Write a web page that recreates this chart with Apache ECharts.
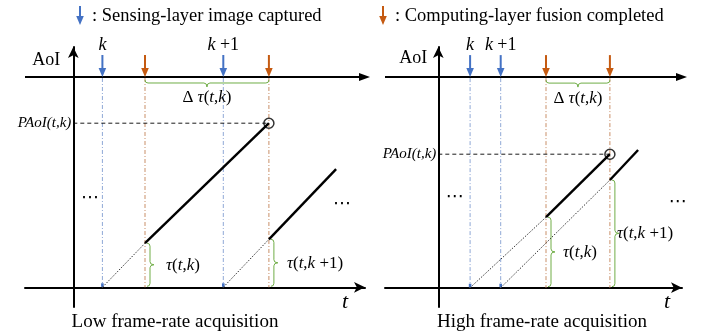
<!DOCTYPE html>
<html><head><meta charset="utf-8">
<script src="https://cdn.jsdelivr.net/npm/echarts@6/dist/echarts.min.js"></script>
<style>html,body{margin:0;padding:0;background:#fff}#c{width:709px;height:335px}</style>
</head><body><div id="c"></div>
<script>
// ---------------- data (time / AoI units) ----------------
const legendLabels = [': Sensing-layer image captured', ': Computing-layer fusion completed'];
const panelTitles = ['Low frame-rate acquisition', 'High frame-rate acquisition'];
const captureLabels = ['{i|k}', '{i|k}{n| +1}'];
const tauLabels = ['{i|τ}{n|(}{i|t}{n|,}{i|k}{n|)}', '{i|τ}{n|(}{i|t}{n|,}{i|k}{n| +1)}'];
const deltaLabel = '{n|Δ }{i|τ}{n|(}{i|t}{n|,}{i|k}{n|)}';
const paoiLabel = '{i|PAoI}{n|(}{i|t}{n|,}{i|k}{n|)}';
const axisLabelsY = 'AoI';
const axisLabelsX = 't';

// low frame-rate panel
const lowCaptureT = [0.97, 5.0];
const lowFusionT = [2.39, 6.52];
const lowWaitK = [[0.97, 0], [2.39, 1.47]];
const lowAgeK = [[2.39, 1.47], [6.52, 5.47]];
const lowWaitK1 = [[5.0, 0], [6.52, 1.6]];
const lowAgeK1 = [[6.52, 1.6], [8.76, 3.94]];
const lowPeak = [[6.52, 5.47]];

// high frame-rate panel
const highCaptureT = [1.06, 2.08];
const highFusionT = [3.59, 5.72];
const highWaitK = [[1.06, 0], [3.59, 2.35]];
const highAgeK = [[3.59, 2.35], [5.72, 4.45]];
const highWaitK1 = [[2.08, 0], [5.72, 3.59]];
const highAgeK1 = [[5.72, 3.59], [6.66, 4.59]];
const highPeak = [[5.72, 4.45]];

// ---------------- layout / style ----------------
const FONT = 'Liberation Serif';
const BLUE = '#4472C4', ORANGE = '#C55A11', GREEN = '#70AD47';
const BLUE_L = '#8FA8D6', ORANGE_L = '#C98F68';

const panels = [
  { grid: {left: 25, top: 47, width: 340, height: 260}, x: [-1.61, 9.7233], y: [-0.6567, 8.01], timeline: 7.01,
    capture: lowCaptureT, fusion: lowFusionT, wait: [lowWaitK, lowWaitK1], age: [lowAgeK, lowAgeK1], peak: lowPeak,
    tauDx: [21, 18], dots: [[0.56, 2.98], [8.96, 2.78]], tDx: -20, aoiDx: -13, aoiDy: -17, titleX: 175 },
  { grid: {left: 385, top: 47, width: 297, height: 260}, x: [-1.7767, 8.1233], y: [-0.6433, 8.0233], timeline: 7.02,
    capture: highCaptureT, fusion: highFusionT, wait: [highWaitK, highWaitK1], age: [highAgeK, highAgeK1], peak: highPeak,
    tauDx: [17, 7], dots: [[0.55, 3.02], [7.98, 2.86]], tDx: -15, aoiDx: -11, aoiDy: -19, titleX: 542 }
];

function rich(size, italicAll) {
  return {
    i: {fontStyle: 'italic', fontSize: size, fontFamily: FONT, fill: '#000', color: '#000'},
    n: {fontStyle: italicAll ? 'italic' : 'normal', fontSize: size, fontFamily: FONT, fill: '#000', color: '#000'}
  };
}
function txt(x, y, text, size, align, opts) {
  opts = opts || {};
  return {type: 'text', x: x, y: y, style: {
    text: text, rich: rich(size, opts.italicAll), fontSize: size, fontFamily: opts.family || FONT,
    fontStyle: opts.italic ? 'italic' : 'normal', fill: '#000',
    align: align, textAlign: align, verticalAlign: 'middle', textVerticalAlign: 'middle'
  }};
}
function downArrow(x, yTip, color) {
  return [
    {type: 'line', shape: {x1: x, y1: yTip - 22, x2: x, y2: yTip - 7}, style: {stroke: color, lineWidth: 2}},
    {type: 'polygon', shape: {points: [[x, yTip], [x - 3.8, yTip - 9], [x + 3.8, yTip - 9]]}, style: {fill: color}}
  ];
}
function vBrace(x, y1, y2) {
  const xs = x + 3, xn = x + 7, ym = (y1 + y2) / 2, r = 3;
  return {type: 'path', shape: {pathData:
    `M${x},${y1} Q${xs},${y1} ${xs},${y1 + r} L${xs},${ym - r} Q${xs},${ym} ${xn},${ym} Q${xs},${ym} ${xs},${ym + r} L${xs},${y2 - r} Q${xs},${y2} ${x},${y2}`},
    style: {stroke: GREEN, lineWidth: 1, fill: null}};
}
function hBrace(x1, x2, yt) {
  const ys = yt + 3, yn = yt + 7, xm = (x1 + x2) / 2, r = 3;
  return {type: 'path', shape: {pathData:
    `M${x1},${yt} Q${x1},${ys} ${x1 + r},${ys} L${xm - r},${ys} Q${xm},${ys} ${xm},${yn} Q${xm},${ys} ${xm + r},${ys} L${x2 - r},${ys} Q${x2},${ys} ${x2},${yt}`},
    style: {stroke: GREEN, lineWidth: 1, fill: null}};
}

function annot(p) {
  return function (params, api) {
    const c = (t, a) => api.coord([t, a]);
    const kids = [];
    const TL = p.timeline;
    const tl0 = c(p.x[0], TL), tl1 = c(p.x[1], TL);
    const tlY = tl0[1];
    const origin = c(0, 0);
    // vertical dash-dot guides
    p.capture.forEach(t => { const a = c(t, TL), b = c(t, 0);
      kids.push({type: 'line', shape: {x1: a[0], y1: a[1] + 1, x2: b[0], y2: b[1]}, style: {stroke: BLUE_L, lineWidth: 1, lineDash: [4, 2, 1, 2]}}); });
    p.fusion.forEach(t => { const a = c(t, TL), b = c(t, 0);
      kids.push({type: 'line', shape: {x1: a[0], y1: a[1] + 1, x2: b[0], y2: b[1]}, style: {stroke: ORANGE_L, lineWidth: 1, lineDash: [4, 2, 1, 2]}}); });
    // PAoI dashed line
    const pk = c(p.peak[0][0], p.peak[0][1]);
    kids.push({type: 'line', shape: {x1: origin[0], y1: pk[1], x2: pk[0], y2: pk[1]}, style: {stroke: '#000', lineWidth: 0.9, lineDash: [4, 3]}});
    // timeline
    kids.push({type: 'line', shape: {x1: tl0[0], y1: tlY, x2: tl1[0], y2: tlY}, style: {stroke: '#000', lineWidth: 2}});
    kids.push({type: 'polygon', shape: {points: [[tl1[0] + 5, tlY], [tl1[0] - 6, tlY - 4], [tl1[0] - 6, tlY + 4]]}, style: {fill: '#000'}});
    // event arrows and labels
    p.capture.forEach((t, i) => { const a = c(t, TL);
      kids.push(...downArrow(a[0], tlY, BLUE));
      kids.push(txt(a[0], tlY - 32, captureLabels[i], 18, 'center'));
      const b = c(t, 0);
      kids.push({type: 'rect', shape: {x: b[0] - 1.3, y: b[1] - 4, width: 2.6, height: 3.5}, style: {fill: BLUE}});
    });
    p.fusion.forEach(t => { const a = c(t, TL); kids.push(...downArrow(a[0], tlY, ORANGE)); });
    // delta brace
    const f0 = c(p.fusion[0], TL), f1 = c(p.fusion[1], TL);
    kids.push(hBrace(f0[0], f1[0], tlY + 3));
    kids.push(txt((f0[0] + f1[0]) / 2, tlY + 21, deltaLabel, 17, 'center'));
    // tau braces
    p.fusion.forEach((t, i) => {
      const top = c(t, p.wait[i][1][1]), bot = c(t, 0);
      kids.push(vBrace(top[0] + 2, top[1], bot[1] - 1));
      kids.push(txt(top[0] + p.tauDx[i], (top[1] + bot[1]) / 2, tauLabels[i], 17, 'left'));
    });
    // axis texts
    kids.push(txt(origin[0] + p.aoiDx, tlY + p.aoiDy, axisLabelsY, 18, 'right'));
    kids.push(txt(tl1[0] + p.tDx, origin[1] + 15, '{i|' + axisLabelsX + '}', 22, 'center'));
    kids.push(txt(origin[0] - 2, pk[1], paoiLabel, 15, 'right', {italicAll: true}));
    // ellipses
    p.dots.forEach(d => { const q = c(d[0], d[1]);
      kids.push({type: 'text', x: q[0], y: q[1], style: {text: '⋯', fontSize: 18, fontFamily: 'DejaVu Sans', fill: '#000',
        align: 'center', textAlign: 'center', verticalAlign: 'middle', textVerticalAlign: 'middle'}}); });
    return {type: 'group', children: kids};
  };
}

const grids = [], xAxes = [], yAxes = [], series = [];
panels.forEach((p, i) => {
  grids.push(Object.assign({containLabel: false}, p.grid));
  const axisCommon = {
    type: 'value', gridIndex: i,
    axisLine: {onZero: true, symbol: ['none', 'arrow'], symbolSize: [8, 11], lineStyle: {color: '#000', width: 2}},
    axisTick: {show: false}, axisLabel: {show: false}, splitLine: {show: false}
  };
  xAxes.push(Object.assign({}, axisCommon, {min: p.x[0], max: p.x[1]}));
  yAxes.push(Object.assign({}, axisCommon, {min: p.y[0], max: p.y[1]}));
  series.push({type: 'custom', xAxisIndex: i, yAxisIndex: i, data: [[0, 0]], renderItem: annot(p), clip: false, z: 1, silent: true});
  p.wait.forEach(w => series.push({type: 'line', xAxisIndex: i, yAxisIndex: i, data: w, symbol: 'none', silent: true, z: 3,
    lineStyle: {color: '#333', width: 1, type: [1.5, 1.5]}}));
  p.age.forEach(a => series.push({type: 'line', xAxisIndex: i, yAxisIndex: i, data: a, symbol: 'none', silent: true, z: 3,
    lineStyle: {color: '#000', width: 2.4}}));
  series.push({type: 'scatter', xAxisIndex: i, yAxisIndex: i, data: p.peak, symbol: 'circle', symbolSize: 10, silent: true, z: 4,
    itemStyle: {color: 'rgba(0,0,0,0)', borderColor: '#000', borderWidth: 1.5}});
});

function legendArrow(x, color) {
  return [
    {type: 'line', shape: {x1: x, y1: 6, x2: x, y2: 18}, style: {stroke: color, lineWidth: 2}},
    {type: 'polygon', shape: {points: [[x, 25], [x - 3.8, 16], [x + 3.8, 16]]}, style: {fill: color}}
  ];
}
function gtext(x, y, text, size, align) {
  return {type: 'text', x: x, y: y, style: {text: text, fontSize: size, fontFamily: FONT, fill: '#000',
    align: align, textAlign: align, verticalAlign: 'middle', textVerticalAlign: 'middle'}};
}

const graphic = [
  ...legendArrow(80, BLUE), gtext(92, 16, legendLabels[0], 18.5, 'left'),
  ...legendArrow(383, ORANGE), gtext(395, 16, legendLabels[1], 18.5, 'left'),
  gtext(panels[0].titleX, 322, panelTitles[0], 19, 'center'),
  gtext(panels[1].titleX, 322, panelTitles[1], 19, 'center')
];

const chart = echarts.init(document.getElementById('c'), null, {renderer: 'canvas'});
chart.setOption({animation: false, grid: grids, xAxis: xAxes, yAxis: yAxes, series: series, graphic: graphic});
</script></body></html>
